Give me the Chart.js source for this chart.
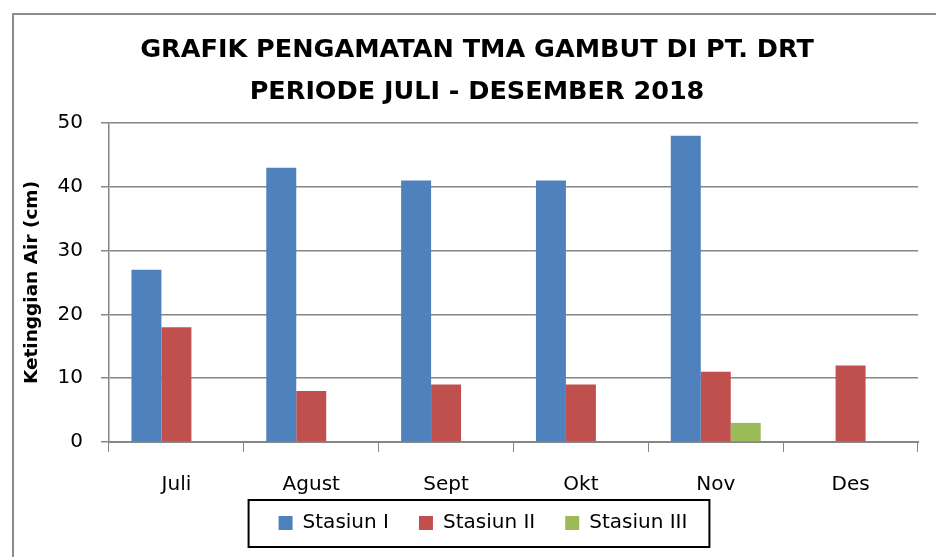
<!DOCTYPE html>
<html>
<head>
<meta charset="utf-8">
<script src="https://cdn.jsdelivr.net/npm/chart.js@4"></script>
<style>
  html, body { margin: 0; padding: 0; background: #fff; }
  canvas { display: block; }
</style>
</head>
<body>
<canvas id="tmaChart" width="936" height="557"></canvas>
<script>
const bulan = ['Juli', 'Agust', 'Sept', 'Okt', 'Nov', 'Des'];
const stasiun1 = [27, 43, 41, 41, 48, null];
const stasiun2 = [18, 8, 9, 9, 11, 12];
const stasiun3 = [null, null, null, null, 3, null];
const yTicks = [0, 10, 20, 30, 40, 50];

const gridColor = '#868686';
const fontName = '"DejaVu Sans", sans-serif';
const legendPad = 30;
const legendFont = 20;

// nudge title and legend into the places they have in the original
const shiftPlugin = {
    id: 'shift',
    afterLayout(chart) {
        chart.titleBlock.left += 8;
        chart.titleBlock.right += 8;
        const lg = chart.legend;
        lg.left += 14;
        lg.right += 14;
        lg.top = 523 - legendPad - legendFont / 2;
        lg.bottom = lg.top + lg.height;
    }
};

// frame round the whole chart and box round the legend
const framePlugin = {
    id: 'frame',
    afterDraw(chart) {
        const ctx = chart.ctx;
        ctx.save();
        ctx.strokeStyle = '#8c8c8c';
        ctx.lineWidth = 2;
        ctx.strokeRect(13, 14, 1000, 1000);

        const boxes = chart.legend.legendHitBoxes;
        if (boxes && boxes.length) {
            const left = Math.min(...boxes.map(b => b.left));
            const right = Math.max(...boxes.map(b => b.left + b.width));
            const top = Math.min(...boxes.map(b => b.top));
            const bottom = Math.max(...boxes.map(b => b.top + b.height));
            ctx.strokeStyle = '#000';
            ctx.lineWidth = 2;
            ctx.strokeRect(left - 30, top - 13, right - left + 52, bottom - top + 27);
        }
        ctx.restore();
    }
};

const ctx = document.getElementById('tmaChart').getContext('2d');
const tmaChart = new Chart(ctx, {
    type: 'bar',
    data: {
        labels: bulan,
        datasets: [
            { label: 'Stasiun I', data: stasiun1, backgroundColor: '#4F81BD' },
            { label: 'Stasiun II', data: stasiun2, backgroundColor: '#C0504D' },
            { label: 'Stasiun III', data: stasiun3, backgroundColor: '#9BBB59' }
        ]
    },
    options: {
        responsive: false,
        animation: false,
        layout: { padding: { left: 20, right: 18, top: 0, bottom: 0 } },
        datasets: {
            bar: { categoryPercentage: 0.667, barPercentage: 1 }
        },
        plugins: {
            title: {
                display: true,
                text: ['GRAFIK PENGAMATAN TMA GAMBUT DI PT. DRT', 'PERIODE JULI - DESEMBER 2018'],
                color: '#000',
                font: { family: fontName, size: 25.5, weight: 'bold', lineHeight: 42 / 25.5 },
                padding: { top: 29, bottom: 10 }
            },
            legend: {
                position: 'bottom',
                maxHeight: 57,
                labels: {
                    color: '#000',
                    font: { family: fontName, size: legendFont },
                    boxWidth: 14,
                    boxHeight: 14,
                    padding: legendPad
                }
            },
            tooltip: { enabled: false }
        },
        scales: {
            x: {
                grid: {
                    offset: true,
                    drawOnChartArea: false,
                    color: gridColor,
                    tickLength: 10,
                    tickColor: gridColor
                },
                border: { color: gridColor, width: 2 },
                ticks: {
                    color: '#000',
                    font: { family: fontName, size: 20 },
                    padding: 21
                },
                afterFit(scale) { scale.height = 58; }
            },
            y: {
                min: 0,
                max: 50,
                afterBuildTicks(scale) {
                    scale.ticks = yTicks.map(v => ({ value: v }));
                },
                grid: {
                    color: gridColor,
                    lineWidth: 1.5,
                    tickLength: 8,
                    tickColor: gridColor
                },
                border: { color: gridColor, width: 1.5 },
                ticks: {
                    color: '#000',
                    font: { family: fontName, size: 20 },
                    padding: 18
                },
                title: {
                    display: true,
                    text: 'Ketinggian Air (cm)',
                    color: '#000',
                    font: { family: fontName, size: 18.5, weight: 'bold' },
                    padding: { top: 1, bottom: 0 }
                },
                afterFit(scale) { scale.width = 89; }
            }
        }
    },
    plugins: [shiftPlugin, framePlugin]
});
</script>
</body>
</html>
